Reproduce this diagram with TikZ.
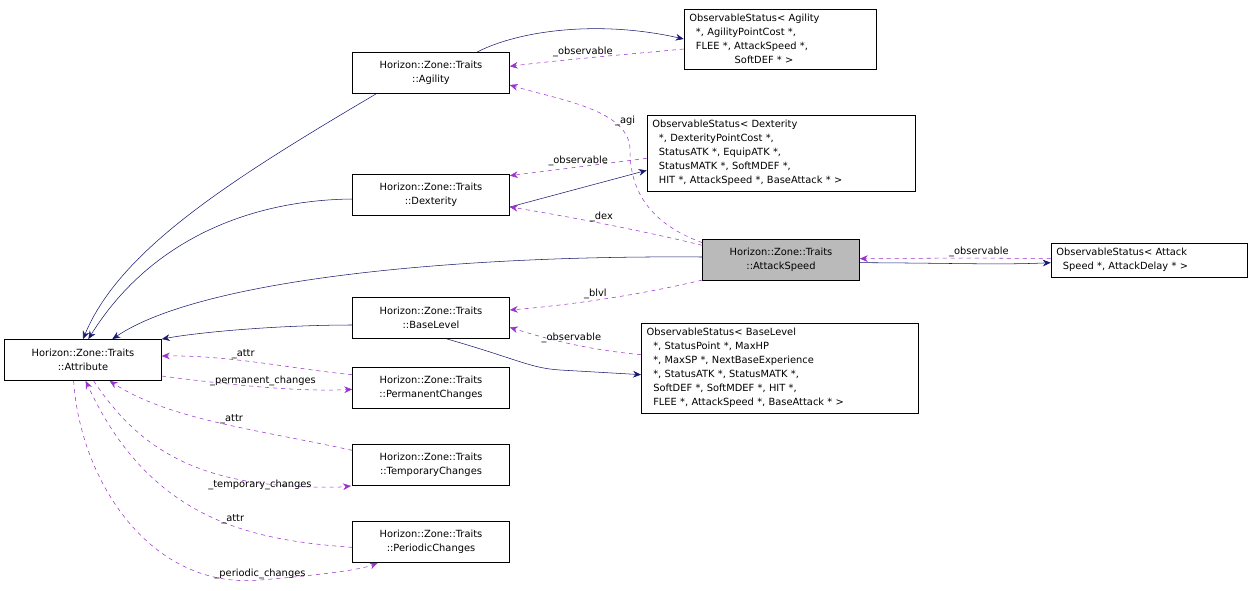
\documentclass[tikz,border=0pt]{standalone}
\usepackage{fontspec}
\setmainfont{DejaVu Sans}
\usetikzlibrary{arrows.meta}
\definecolor{edgeblue}{HTML}{191970}
\definecolor{edgepurple}{HTML}{9A32CD}
\tikzset{
  cls/.style={draw, fill=white, align=center, inner sep=2pt,
    font=\fontsize{7.4}{10.5}\selectfont, minimum width=117.75pt, minimum height=31pt},
  tmpl/.style={cls, align=left, minimum height=0pt, inner sep=4pt, text width=#1},
  uses/.style={draw=edgeblue, -{Stealth[length=6pt,width=5pt]}},
  member/.style={draw=edgepurple, dashed, -{Stealth[length=6pt,width=5pt]}},
  lbl/.style={font=\fontsize{7.4}{9}\selectfont, inner sep=1pt}
}
\begin{document}
\begin{tikzpicture}[x=0.75pt, y=-0.75pt]
    \useasboundingbox (0,0) rectangle (1252,590);
    % classes
    \node[cls] (attr) at (83,360) {Horizon::Zone::Traits\\::Attribute};
    \node[cls] (agi) at (431,73) {Horizon::Zone::Traits\\::Agility};
    \node[cls] (dex) at (431,195) {Horizon::Zone::Traits\\::Dexterity};
    \node[cls] (blvl) at (431,318) {Horizon::Zone::Traits\\::BaseLevel};
    \node[cls] (perm) at (431,388) {Horizon::Zone::Traits\\::PermanentChanges};
    \node[cls] (temp) at (431,465) {Horizon::Zone::Traits\\::TemporaryChanges};
    \node[cls] (peri) at (431,542) {Horizon::Zone::Traits\\::PeriodicChanges};
    \node[cls, fill=black!27] (aspd) at (781,260) {Horizon::Zone::Traits\\::AttackSpeed};
    % observable templates
    \node[tmpl=136pt] (osagi) at (780,39) {ObservableStatus< Agility\\\ \ *, AgilityPointCost *,\\\ \ FLEE *, AttackSpeed *,\\\hspace{4.6em}SoftDEF * >};
    \node[tmpl=193pt] (osdex) at (781,153) {ObservableStatus< Dexterity\\\ \ *, DexterityPointCost *,\\\ \ StatusATK *, EquipATK *,\\\ \ StatusMATK *, SoftMDEF *,\\\ \ HIT *, AttackSpeed *, BaseAttack * >};
    \node[tmpl=139pt] (osaspd) at (1149,260) {ObservableStatus< Attack\\\ \ Speed *, AttackDelay * >};
    \node[tmpl=200pt] (osblvl) at (780,368) {ObservableStatus< BaseLevel\\\ \ *, StatusPoint *, MaxHP\\\ \ *, MaxSP *, NextBaseExperience\\\ \ *, StatusATK *, StatusMATK *,\\\ \ SoftDEF *, SoftMDEF *, HIT *,\\\ \ FLEE *, AttackSpeed *, BaseAttack * >};
    % links to Attribute
    \draw[uses] (agi.south) ++(-55,0) .. controls (230,180) and (120,250) .. (attr.north);
    \draw[uses] (dex.west) ++(0,4) .. controls (250,200) and (150,240) .. ([xshift=4pt]attr.north);
    \draw[uses] (aspd.west) ++(0,-3) .. controls (450,255) and (200,280) .. ([xshift=22pt]attr.north);
    \draw[uses] (blvl.west) ++(0,7) .. controls (280,325) and (200,332) .. (attr.north east);
    % template links
    \draw[uses] (agi.north) ++(46,0) .. controls (520,30) and (600,20) .. (osagi.west);
    \draw[member] ([yshift=-7.5pt]osagi.west) .. controls (620,55) and (560,60) .. ([yshift=5pt]agi.east) node[lbl, pos=0.55, above] {\_observable};
    \draw[uses] ([yshift=-9pt]dex.east) -- ([yshift=-13pt]osdex.west);
    \draw[member] ([yshift=-4pt]osdex.west) -- ([yshift=-17pt]dex.east |- osdex.west) node[lbl, midway, above] {\_observable};
    \draw[member] ([yshift=13pt]aspd.west) .. controls (640,220) and (630,180) .. (630,150) .. controls (630,110) and (560,100) .. ([yshift=-9pt]agi.east) node[lbl, pos=0.3, right] {\_agi};
    \draw[member] ([yshift=11pt]aspd.west) .. controls (640,230) and (560,215) .. ([yshift=-9pt]dex.east) node[lbl, pos=0.5, above] {\_dex};
    \draw[member] ([yshift=-15pt]aspd.west) .. controls (640,295) and (570,305) .. ([yshift=6pt]blvl.east) node[lbl, pos=0.55, above] {\_blvl};
    \draw[uses] ([yshift=-2pt]aspd.east) .. controls (950,263) and (1000,265) .. ([yshift=-2pt]osaspd.west);
    \draw[member] ([yshift=1pt]osaspd.west) .. controls (1000,258) and (950,258) .. ([yshift=1pt]aspd.east) node[lbl, pos=0.45, above] {\_observable};
    \draw[uses] ([xshift=12pt]blvl.south) .. controls (520,360) and (530,368) .. (560,370) -- ([yshift=-5pt]osblvl.west);
    \draw[member] ([yshift=10pt]osblvl.west) .. controls (590,350) and (550,340) .. ([yshift=-7pt]blvl.east) node[lbl, pos=0.5, above] {\_observable};
    % members of Attribute
    \draw[member] ([yshift=10pt]perm.west) .. controls (300,370) and (230,355) .. ([yshift=3pt]attr.east) node[lbl, pos=0.6, above] {\_attr};
    \draw[member] ([yshift=-12pt]attr.east) .. controls (230,385) and (300,392) .. ([yshift=-1pt]perm.west) node[lbl, pos=0.5, above] {\_permanent\_changes};
    \draw[member] ([yshift=11pt]temp.west) .. controls (260,430) and (170,420) .. ([xshift=20pt]attr.south) node[lbl, pos=0.45, above] {\_attr};
    \draw[member] ([xshift=8pt]attr.south) .. controls (140,450) and (200,490) .. (340,487) -- ([xshift=-60pt]temp.south) node[lbl, pos=0, above, xshift=-60pt, yshift=-3pt] {\_temporary\_changes};
    \draw[member] ([yshift=-4pt]peri.west) .. controls (250,540) and (150,520) .. ([xshift=2pt]attr.south) node[lbl, pos=0.4, above] {\_attr};
    \draw[member] ([xshift=-7pt]attr.south) .. controls (80,480) and (150,590) .. (260,580) .. controls (320,575) and (360,570) .. ([xshift=-40pt]peri.south) node[lbl, pos=0, above] {\_periodic\_changes};
\end{tikzpicture}
\end{document}
